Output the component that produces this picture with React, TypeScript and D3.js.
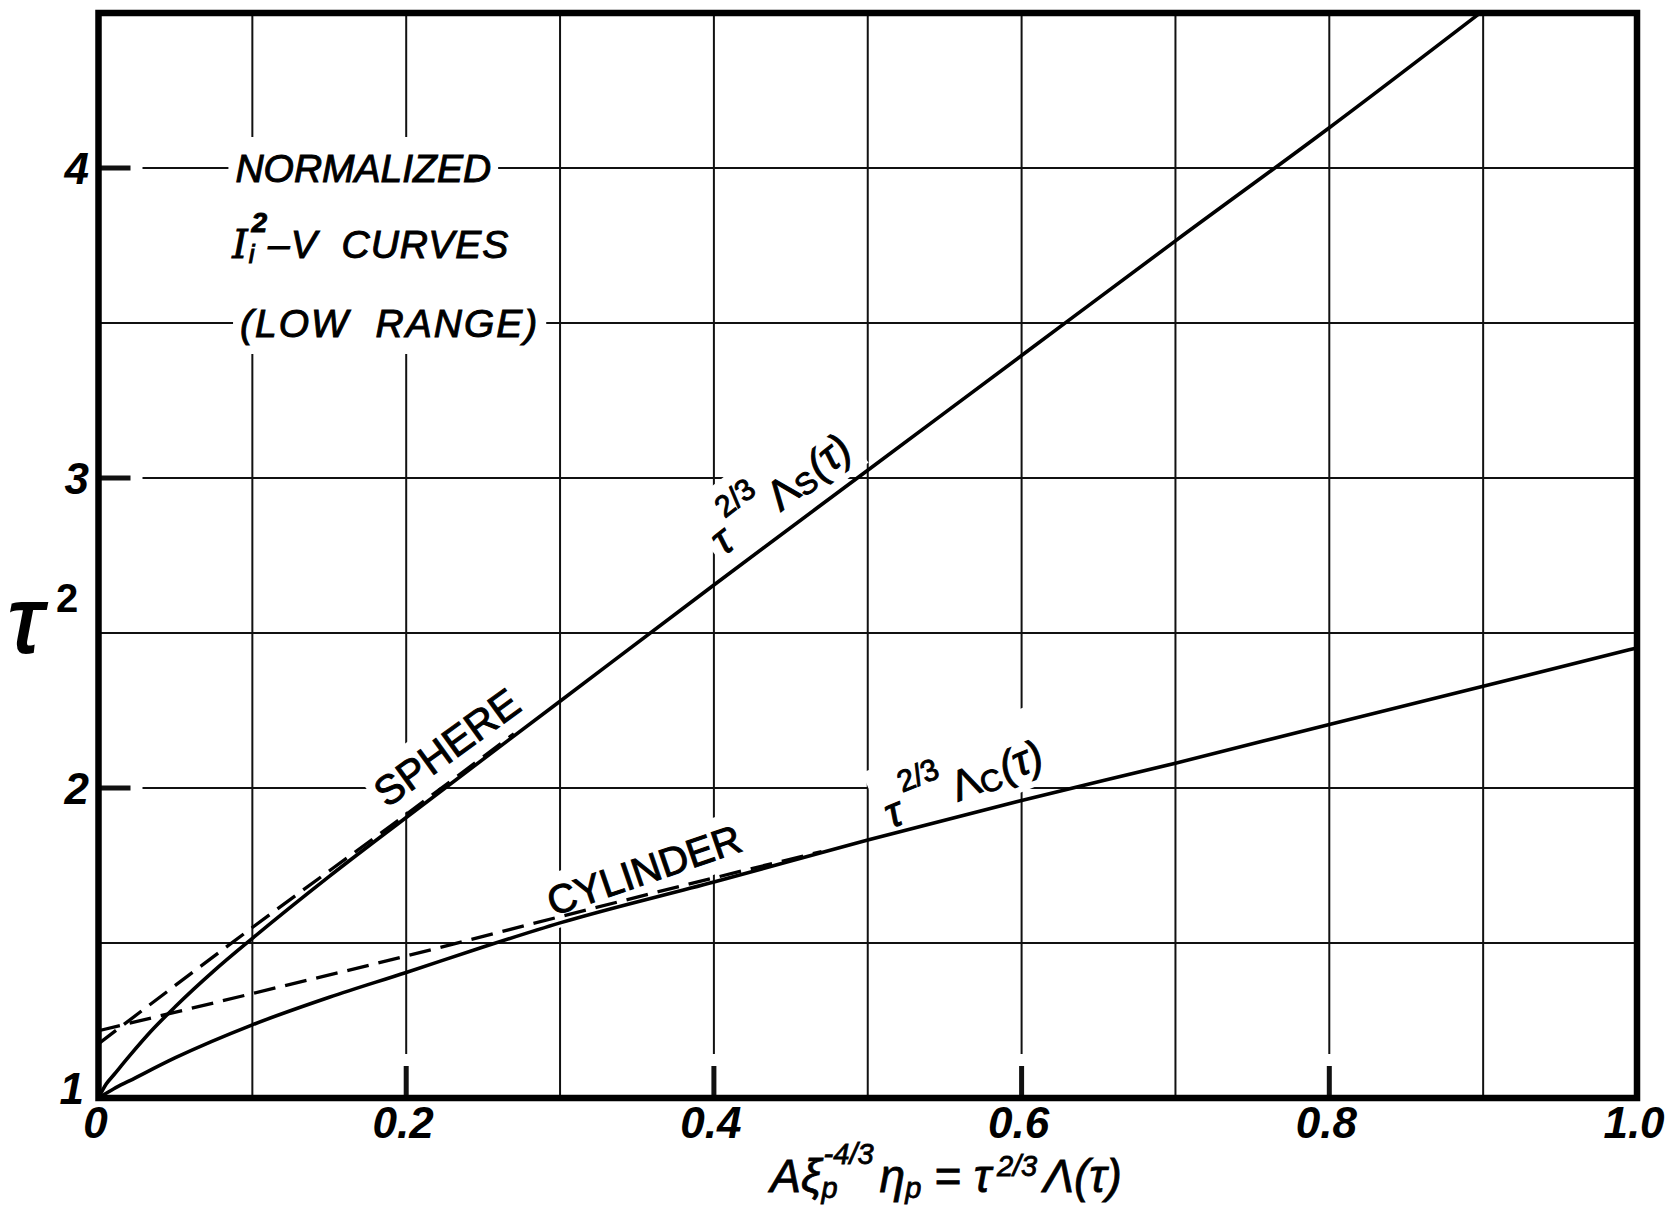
import React, { useLayoutEffect, useRef, useState } from 'react';
import * as d3 from 'd3';

const W = 1670;
const H = 1212;
const FONT = 'Liberation Sans, Arial, sans-serif';
const NB = '\u00a0';

// solid curves
const sphereX = [0, 0.005, 0.01, 0.02, 0.035, 0.05, 0.075, 0.1, 0.15, 0.2, 0.3, 0.4, 0.5, 0.6, 0.7, 0.8, 0.898];
const sphereY = [1, 1.045, 1.075, 1.135, 1.22, 1.295, 1.41, 1.515, 1.715, 1.905, 2.28, 2.655, 3.025, 3.395, 3.765, 4.13, 4.5];
const cylX = [0, 0.01, 0.02, 0.05, 0.1, 0.15, 0.2, 0.25, 0.3, 0.4, 0.5, 0.6, 0.7, 0.8, 0.9, 1.0];
const cylY = [1, 1.03, 1.055, 1.13, 1.236, 1.325, 1.405, 1.487, 1.565, 1.697, 1.832, 1.96, 2.08, 2.205, 2.328, 2.452];

// dashed asymptotes
const sphereDashX = [0, 0.1, 0.2, 0.27];
const sphereDashY = [1.175, 1.55, 1.915, 2.175];
const cylDashX = [0, 0.1, 0.2, 0.3, 0.4, 0.47];
const cylDashY = [1.217, 1.337, 1.458, 1.585, 1.71, 1.795];

const xTicks = [0, 0.2, 0.4, 0.6, 0.8, 1.0];
const xTickLabels = ['0', '0.2', '0.4', '0.6', '0.8', '1.0'];
const yTicks = [1, 2, 3, 4];
const yTickLabels = ['1', '2', '3', '4'];
const xGrid = [0.1, 0.2, 0.3, 0.4, 0.5, 0.6, 0.7, 0.8, 0.9];
const yGrid = [1.5, 2, 2.5, 3, 3.5, 4];

const x = d3.scaleLinear().domain([0, 1]).range([98.5, 1637]);
const y = d3.scaleLinear().domain([1, 4.5]).range([1098, 13]);

const line = d3.line<[number, number]>()
  .x(d => x(d[0]))
  .y(d => y(d[1]))
  .curve(d3.curveMonotoneX);

const zip = (xs: number[], ys: number[]) => xs.map((v, i) => [v, ys[i]] as [number, number]);

// text with a white box behind it, so the grid breaks around it
function Boxed(props: any) {
  const { tx, ty, angle = 0, pad = 6, anchor = 'middle', size = 39, italic = false, spacing = 0, children } = props;
  const ref = useRef<SVGTextElement>(null);
  const [box, setBox] = useState<any>(null);
  useLayoutEffect(() => {
    if (ref.current) {
      const b = ref.current.getBBox();
      setBox({ x: b.x, y: b.y, w: b.width, h: b.height });
    }
  }, []);
  return (
    <g transform={`translate(${tx},${ty}) rotate(${angle})`}>
      {box && <rect x={box.x - pad} y={box.y - pad} width={box.w + 2 * pad} height={box.h + 2 * pad} fill="#fff" />}
      <text ref={ref} textAnchor={anchor} dominantBaseline="central" fontSize={size} letterSpacing={spacing}
        fontStyle={italic ? 'italic' : 'normal'} fill="#000" stroke="#000" strokeWidth={1}>
        {children}
      </text>
    </g>
  );
}

function TauLambda({ sub, size }: { sub: string; size: number }) {
  const s = size * 0.72;
  return (
    <>
      <tspan fontStyle="italic">τ</tspan>
      <tspan fontSize={s} dy={-size * 0.6} dx={8}>2/3</tspan>
      <tspan dy={size * 0.6} dx={6}>Λ</tspan>
      <tspan fontSize={s} dy={size * 0.18}>{sub}</tspan>
      <tspan dy={-size * 0.18} dx={2} fontStyle="italic">(τ)</tspan>
    </>
  );
}

export default function App() {
  const x0 = x(0), x1 = x(1), yb = y(1), yt = y(4.5);
  const tickLen = 32, gap = 44;
  const majorX = [0.2, 0.4, 0.6, 0.8];
  const majorY = [2, 3, 4];

  return (
    <svg width={W} height={H} style={{ position: 'absolute', left: 0, top: 0, background: '#fff' }} fontFamily={FONT}>
      {/* grid */}
      <g stroke="#111" strokeWidth={2}>
        {xGrid.map(v => {
          const major = majorX.includes(v);
          return (
            <g key={'x' + v}>
              <line x1={x(v)} x2={x(v)} y1={yt} y2={major ? yb - gap : yb} />
              {major && <line x1={x(v)} x2={x(v)} y1={yb} y2={yb - tickLen} strokeWidth={5} />}
            </g>
          );
        })}
        {yGrid.map(v => {
          const major = majorY.includes(v);
          return (
            <g key={'y' + v}>
              <line x1={major ? x0 + gap : x0} x2={x1} y1={y(v)} y2={y(v)} />
              {major && <line x1={x0} x2={x0 + tickLen} y1={y(v)} y2={y(v)} strokeWidth={5} />}
            </g>
          );
        })}
      </g>

      {/* title block */}
      <rect x={x(0.092)} width={x(0.21) - x(0.092)} y={y(4.1)} height={y(3.4) - y(4.1)} fill="#fff" />
      <Boxed tx={x(0.089)} ty={y(4)} anchor="start" italic size={39} pad={7}>NORMALIZED</Boxed>
      <Boxed tx={x(0.087)} ty={y(3.755)} anchor="start" italic size={39} pad={7} spacing={1}>
        <tspan fontFamily="DejaVu Serif, serif">I</tspan>
        <tspan fontSize={26} dy={10}>i</tspan>
        <tspan fontSize={28} dy={-32} dx={-4} fontWeight="bold">2</tspan>
        <tspan dy={22}>{`–V${NB}${NB}CURVES`}</tspan>
      </Boxed>
      <Boxed tx={x(0.092)} ty={y(3.5)} anchor="start" italic size={39} pad={7} spacing={2}>{`(LOW${NB}${NB}RANGE)`}</Boxed>

      {/* curve labels */}
      <Boxed tx={x(0.2265)} ty={y(2.13)} angle={-36} size={41} pad={5}>SPHERE</Boxed>
      <Boxed tx={x(0.3546)} ty={y(1.735)} angle={-19} size={40} pad={5}>CYLINDER</Boxed>
      <Boxed tx={x(0.443)} ty={y(2.95)} angle={-38} size={42} pad={6}><TauLambda sub="S" size={42} /></Boxed>
      <Boxed tx={x(0.562)} ty={y(2.015)} angle={-22} size={42} pad={6}><TauLambda sub="C" size={42} /></Boxed>

      {/* curves */}
      <g fill="none" stroke="#000">
        <path d={line(zip(sphereX, sphereY)) || ''} strokeWidth={3.6} />
        <path d={line(zip(cylX, cylY)) || ''} strokeWidth={3.6} />
        <path d={line(zip(sphereDashX, sphereDashY)) || ''} strokeWidth={3.3} strokeDasharray="22 10" />
        <path d={line(zip(cylDashX, cylDashY)) || ''} strokeWidth={3.3} strokeDasharray="22 10" />
      </g>

      {/* frame */}
      <rect x={x0} y={yt} width={x1 - x0} height={yb - yt} fill="none" stroke="#000" strokeWidth={6.5} />

      {/* tick labels */}
      <g fontSize={44} fontWeight="bold" fontStyle="italic" fill="#000">
        {xTicks.map((v, i) => (
          <text key={'xl' + v} x={x(v) - 3} y={yb + 40} textAnchor="middle">{xTickLabels[i]}</text>
        ))}
        {yTicks.map((v, i) => (
          <text key={'yl' + v} x={i === 0 ? 84 : 89} y={y(v) + (i === 0 ? -10 : 0)} textAnchor="end" dominantBaseline="central">
            {yTickLabels[i]}
          </text>
        ))}
      </g>

      {/* axis titles */}
      <text x={8} y={652} fontSize={92} fontStyle="italic" stroke="#000" strokeWidth={2}>τ</text>
      <text x={56} y={612} fontSize={40} fontWeight="bold">2</text>

      <text x={946} y={1192} textAnchor="middle" fontSize={46} fontStyle="italic" stroke="#000" strokeWidth={0.8}>
        <tspan>Aξ</tspan>
        <tspan fontSize={29} dy={6}>p</tspan>
        <tspan fontSize={29} dy={-34} dx={-14}>-4/3</tspan>
        <tspan dy={28} dx={6}>η</tspan>
        <tspan fontSize={29} dy={6}>p</tspan>
        <tspan dy={-6}>{`${NB}=${NB}τ`}</tspan>
        <tspan fontSize={29} dy={-16} dx={6}>2/3</tspan>
        <tspan dy={16} dx={6}>Λ(τ)</tspan>
      </text>
    </svg>
  );
}
